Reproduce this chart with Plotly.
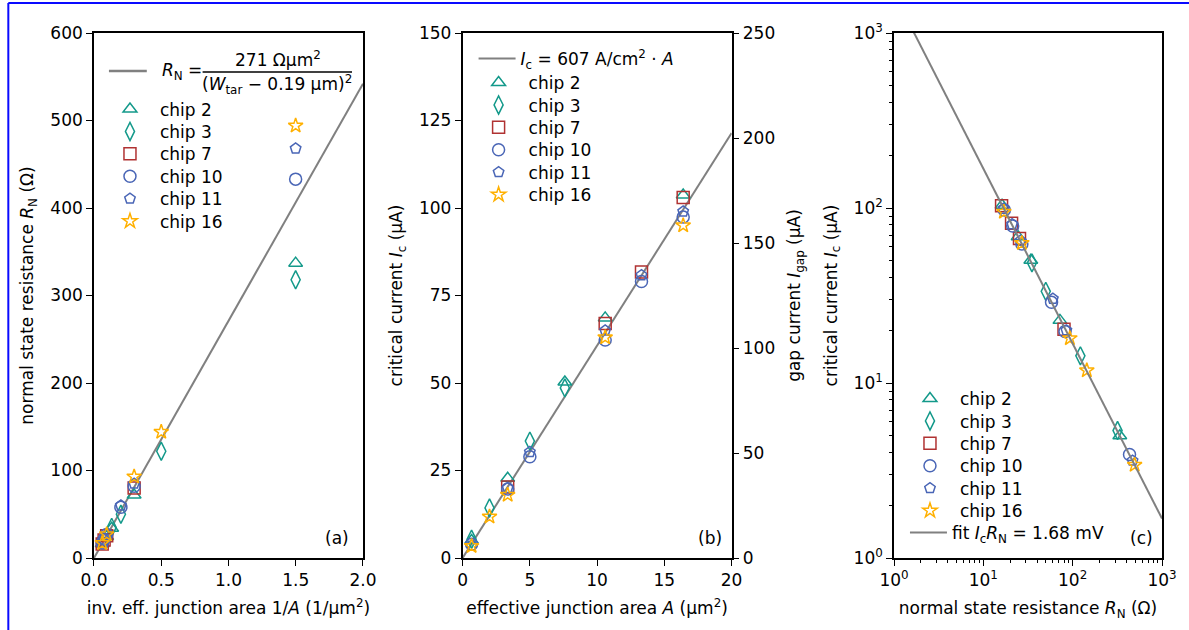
import plotly.graph_objects as go

# ---------------- data ----------------
chips = ["chip 2", "chip 3", "chip 7", "chip 10", "chip 11", "chip 16"]

area_chip2 = [0.667, 3.35, 7.6, 10.6, 16.4]
rn_chip2 = [337, 72, 34, 24.5, 16.2]
ic_chip2 = [5.0, 22.8, 50.3, 68.6, 103.7]

area_chip3 = [0.667, 2.0, 5.0, 7.6]
rn_chip3 = [318, 122, 50, 35]
ic_chip3 = [5.35, 14.3, 33.4, 48.6]

area_chip7 = [3.35, 10.6, 13.3, 16.4]
rn_chip7 = [80, 25.4, 20.7, 16.0]
ic_chip7 = [20.3, 67.0, 81.7, 103.0]

area_chip10 = [0.667, 3.35, 5.0, 10.6, 13.3, 16.4]
rn_chip10 = [433, 82, 58, 27, 21.3, 17.2]
ic_chip10 = [3.9, 19.7, 28.9, 62.3, 79.0, 97.4]

area_chip11 = [0.667, 3.35, 5.0, 10.6, 13.3, 16.4]
rn_chip11 = [468, 85, 60, 26, 21, 16.8]
ic_chip11 = [3.6, 20.0, 30.3, 65.0, 80.8, 99.0]

area_chip16 = [0.667, 2.0, 3.35, 10.6, 16.4]
rn_chip16 = [494, 144, 93, 27, 17]
ic_chip16 = [3.4, 11.8, 18.0, 63.0, 95.0]

# fits
fit_rn_coef = 271.0        # Ohm um^2
fit_jc = 6.07              # uA / um^2  (607 A/cm^2)
fit_icrn = 1680.0          # uA * Ohm  (1.68 mV)
fit_a_x = [0.0, 2.0]
fit_b_x = [0.0, 20.0]
fit_c_x = [1.0, 1000.0]

areas = [area_chip2, area_chip3, area_chip7, area_chip10, area_chip11, area_chip16]
rns = [rn_chip2, rn_chip3, rn_chip7, rn_chip10, rn_chip11, rn_chip16]
ics = [ic_chip2, ic_chip3, ic_chip7, ic_chip10, ic_chip11, ic_chip16]

# ---------------- styles ----------------
TEAL = "#13998a"
RED = "#b03232"
BLUE = "#4a66b6"
GOLD = "#ffb000"
colors = [TEAL, TEAL, RED, BLUE, BLUE, GOLD]
symbols = ["triangle-up-open", "diamond-tall-open", "square-open",
           "circle-open", "pentagon-open", "star-open"]
sizes = [12, 13, 12, 12, 11, 11]
FONT = "DejaVu Sans"
FS = 17
GRAY = "#808080"

W, H = 1189, 630
L, R, T, B = 93, 1166, 33, 558
ROW = 22.4
ITEMW_MARKER = 50
ITEMW_LINE = 37


def xd(px):
    return (px - L) / (R - L)


def yd(py):
    return (B - py) / (B - T)


fig = go.Figure()
legends = {}
leg_count = [0]


def new_legend(left_px, row_py, itemw):
    """one legend box per entry so rows can be placed exactly"""
    leg_count[0] += 1
    key = "legend" if leg_count[0] == 1 else "legend%d" % leg_count[0]
    legends[key] = dict(x=xd(left_px), y=yd(row_py - 16), xanchor="left",
                        yanchor="top", bgcolor="rgba(0,0,0,0)", itemwidth=itemw,
                        font=dict(family=FONT, size=FS, color="black"))
    return key


def marker_legend(marker_px, row_py):
    return new_legend(marker_px - 18 - (ITEMW_MARKER - 30) / 2, row_py, ITEMW_MARKER)


def line_legend(line_start_px, row_py):
    return new_legend(line_start_px - 5, row_py, ITEMW_LINE)


def mk(i):
    return dict(symbol=symbols[i], size=sizes[i], color=colors[i],
                line=dict(width=1.5, color=colors[i]))


# ---- panel (a) ----
fig.add_trace(go.Scatter(x=fit_a_x, y=[fit_rn_coef * v for v in fit_a_x], mode="lines",
                         line=dict(color=GRAY, width=2), showlegend=False,
                         xaxis="x", yaxis="y"))
for i, name in enumerate(chips):
    fig.add_trace(go.Scatter(x=[1.0 / a for a in areas[i]], y=rns[i], mode="markers",
                             name=name, legend=marker_legend(128, 107.5 + ROW * i),
                             marker=mk(i), xaxis="x", yaxis="y"))

# ---- panel (b) ----
fig.add_trace(go.Scatter(x=fit_b_x, y=[fit_jc * v for v in fit_b_x], mode="lines",
                         name="<i>I</i><sub>c</sub> = 607 A/cm<sup>2</sup> · <i>A</i>",
                         legend=line_legend(480, 57), line=dict(color=GRAY, width=2),
                         xaxis="x2", yaxis="y2"))
for i, name in enumerate(chips):
    fig.add_trace(go.Scatter(x=areas[i], y=ics[i], mode="markers",
                             name=name, legend=marker_legend(498, 81 + ROW * i),
                             marker=mk(i), xaxis="x2", yaxis="y2"))
# anchor trace so that the right-hand gap-current axis is drawn
fig.add_trace(go.Scatter(x=[None], y=[None], mode="markers", showlegend=False,
                         hoverinfo="skip", xaxis="x2", yaxis="y3"))

# ---- panel (c) ----
for i, name in enumerate(chips):
    fig.add_trace(go.Scatter(x=rns[i], y=ics[i], mode="markers",
                             name=name, legend=marker_legend(931, 397 + ROW * i),
                             marker=mk(i), xaxis="x3", yaxis="y4"))
fig.add_trace(go.Scatter(x=fit_c_x, y=[fit_icrn / v for v in fit_c_x], mode="lines",
                         name="fit <i>I</i><sub>c</sub><i>R</i><sub>N</sub> = 1.68 mV",
                         legend=line_legend(913, 531), line=dict(color=GRAY, width=2),
                         xaxis="x3", yaxis="y4"))

axis_common = dict(showline=True, linecolor="black", linewidth=1.6, ticks="outside",
                   ticklen=6, tickwidth=1.4, tickcolor="black", showgrid=False,
                   zeroline=False, tickfont=dict(family=FONT, size=FS, color="black"),
                   title_font=dict(family=FONT, size=FS, color="black"))

log_minor = [m * 10 ** k for k in range(0, 3) for m in range(2, 10)]
sup = ["10<sup>0</sup>", "10<sup>1</sup>", "10<sup>2</sup>", "10<sup>3</sup>"]

fig.update_layout(
    width=W, height=H,
    margin=dict(l=L, r=W - R, t=T, b=H - B),
    paper_bgcolor="white", plot_bgcolor="white",
    font=dict(family=FONT, size=FS, color="black"),
    xaxis=dict(axis_common, domain=[xd(94), xd(364)], range=[0, 2], anchor="y",
               tickvals=[0, 0.5, 1.0, 1.5, 2.0], ticktext=["0.0", "0.5", "1.0", "1.5", "2.0"],
               mirror=True,
               title=dict(text="inv. eff. junction area 1/<i>A</i> (1/µm<sup>2</sup>)", standoff=13)),
    yaxis=dict(axis_common, domain=[0, 1], range=[0, 600], dtick=100, anchor="x", mirror=True,
               title=dict(text="normal state resistance <i>R</i><sub>N</sub> (Ω)", standoff=12)),
    xaxis2=dict(axis_common, domain=[xd(464), xd(734)], range=[0, 20], dtick=5, anchor="y2",
                mirror=True,
                title=dict(text="effective junction area <i>A</i> (µm<sup>2</sup>)", standoff=13)),
    yaxis2=dict(axis_common, domain=[0, 1], range=[0, 150], dtick=25, anchor="x2",
                title=dict(text="critical current <i>I</i><sub>c</sub> (µA)", standoff=12)),
    yaxis3=dict(axis_common, range=[0, 250], dtick=50, anchor="x2", overlaying="y2",
                side="right",
                title=dict(text="gap current <i>I</i><sub>gap</sub> (µA)", standoff=14)),
    xaxis3=dict(axis_common, type="log", domain=[xd(897), xd(1166)], range=[0, 3],
                anchor="y4", mirror=True, tickvals=[1, 10, 100, 1000], ticktext=sup,
                minor=dict(ticks="outside", ticklen=3.5, tickwidth=1, tickcolor="black",
                           tickvals=log_minor, showgrid=False),
                title=dict(text="normal state resistance <i>R</i><sub>N</sub> (Ω)", standoff=13)),
    yaxis4=dict(axis_common, type="log", domain=[0, 1], range=[0, 3], anchor="x3",
                mirror=True, tickvals=[1, 10, 100, 1000], ticktext=sup,
                minor=dict(ticks="outside", ticklen=3.5, tickwidth=1, tickcolor="black",
                           tickvals=log_minor, showgrid=False),
                title=dict(text="critical current <i>I</i><sub>c</sub> (µA)", standoff=12)),
    **legends,
)

annotations = [
    dict(text="(a)", x=xd(338), y=yd(538)),
    dict(text="(b)", x=xd(712), y=yd(538)),
    dict(text="(c)", x=xd(1145), y=yd(538)),
    dict(text="<i>R</i><sub>N</sub> =", x=xd(160), y=yd(71), xanchor="left"),
    dict(text="271 Ωµm<sup>2</sup>", x=xd(279), y=yd(59)),
    dict(text="(<i>W</i><sub>tar</sub> − 0.19 µm)<sup>2</sup>", x=xd(278), y=yd(84)),
]
for a in annotations:
    a.setdefault("xanchor", "center")
    a.update(xref="paper", yref="paper", yanchor="middle", showarrow=False,
             font=dict(family=FONT, size=FS, color="black"))
fig.update_layout(annotations=annotations)

shapes = [
    # legend sample line and fraction bar for panel (a)
    dict(type="line", x0=xd(109), x1=xd(147), y0=yd(71), y1=yd(71),
         line=dict(color=GRAY, width=2.5)),
    dict(type="line", x0=xd(203), x1=xd(353), y0=yd(72), y1=yd(72),
         line=dict(color="black", width=1.3)),
    # blue frame
    dict(type="line", x0=xd(8), x1=xd(1200), y0=yd(3), y1=yd(3),
         line=dict(color="#0a0aff", width=2)),
    dict(type="line", x0=xd(8), x1=xd(8), y0=yd(3), y1=yd(640),
         line=dict(color="#0a0aff", width=2)),
]
for s in shapes:
    s.update(xref="paper", yref="paper")
fig.update_layout(shapes=shapes)

fig.write_html("out.html")
